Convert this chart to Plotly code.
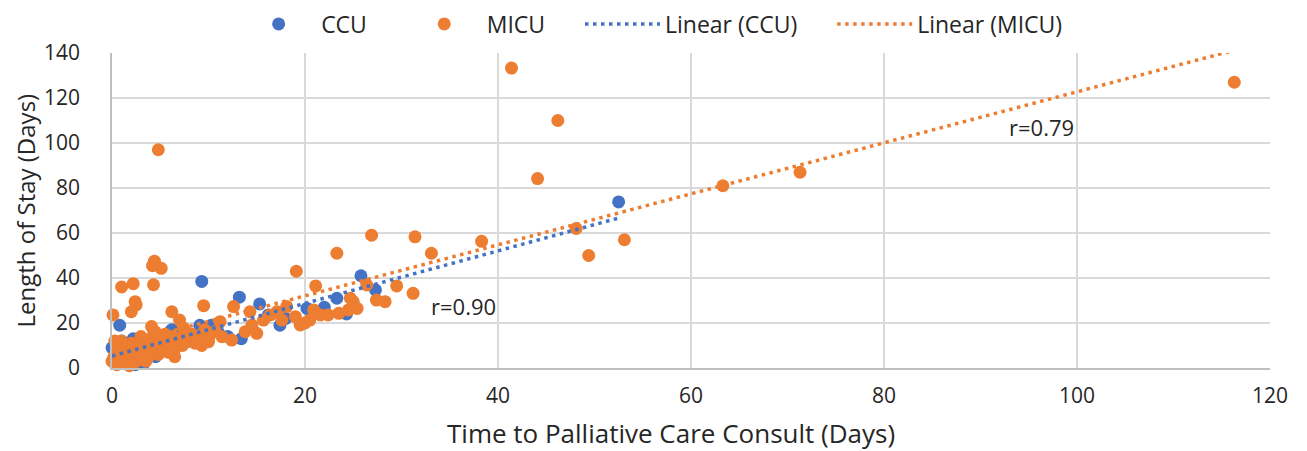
import numpy as np
import plotly.graph_objects as go

# ---- data ----
ccu_x = [0, 0.2, 0.3, 0.5, 0.8, 1.0, 1.2, 1.5, 1.8, 2.2, 2.4, 2.8, 3.0, 3.3, 3.5, 4.0,
         4.5, 5.0, 6.0, 6.2, 7.0, 8.0,
         9.1, 9.3, 10.3, 11.0, 12.0, 13.2, 13.4, 15.3, 16.2, 17.4, 18.0, 20.2, 20.5, 22.0,
         23.3, 24.3, 25.8, 27.3, 52.5]
ccu_y = [9, 4, 2, 3, 19, 12, 4, 6, 11, 13, 1.5, 3, 8, 2, 10, 7,
         5, 11, 16, 17, 14, 12,
         19, 38.5, 19, 16, 14, 31.5, 13, 28.5, 23.6, 19, 22, 26.5, 25.8, 27,
         31, 24, 41, 34.7, 73.8]

micu_x = [4.8, 41.4, 46.2, 44.1, 48.1, 49.4, 53.1, 63.3, 71.3, 116.3, 38.3, 31.4, 33.1,
          26.9, 23.3, 19.1, 21.1, 29.5, 31.2, 27.4, 28.3, 26.4, 25.0, 25.4, 24.5, 23.5,
          22.4, 21.6, 20.9, 20.5, 24.7,
          12.6, 9.5, 14.3, 18.1, 17.1, 17.6, 19.5, 20.0, 19.0, 15.0, 13.8, 12.4, 11.2,
          10.7, 10.0, 11.4, 14.5, 15.7, 16.4,
          4.4, 4.2, 5.1, 1.0, 2.2, 4.3, 2.4, 2.5, 2.0, 0.1, 6.2, 7.0, 4.1, 7.4,
          0, 0.2, 0.3, 0.5, 0.7, 1.0, 1.0, 1.2, 1.5, 1.8, 2.0, 2.2, 2.5, 2.8, 3.0, 3.2,
          3.5, 3.8, 4.0, 4.2, 4.5, 4.8, 5.0, 5.3, 5.5, 5.8, 6.0, 6.3, 6.6, 7.0, 7.3, 7.6,
          8.0, 8.3, 8.6, 9.0, 9.3, 9.6, 10.0, 4.5, 3.0, 0.3, 1.2, 6.5, 3.5,
          0.5, 1.5, 2.5, 1.8]
micu_y = [97, 133.3, 110, 84.2, 62, 50, 57, 81, 87, 127, 56.3, 58.3, 51,
          59, 51, 43, 36.5, 36.5, 33.2, 30.2, 29.5, 36.9, 29.5, 26.5, 25.8, 24.3,
          23.6, 23.6, 25.8, 21.3, 31,
          27.3, 27.7, 25, 27.3, 25, 21.3, 19.1, 20, 22.8, 15.4, 16.1, 12.4, 20.6,
          16.1, 11.7, 13.9, 19.1, 21.3, 23.6,
          47.5, 45.5, 44.3, 36, 37.5, 37, 29.5, 28, 25, 23.6, 25, 21.3, 18.4, 17.8,
          3, 5, 2, 8, 4, 6, 12, 3, 9, 5, 11, 2, 7, 4, 9, 6,
          12, 5, 8, 14, 10, 6, 12, 9, 15, 7, 11, 14, 9, 13, 10, 16,
          12, 15, 11, 14, 10, 17, 13, 16, 14, 12, 10, 5, 3,
          1.5, 2, 3, 1]

x_ticks = [0, 20, 40, 60, 80, 100, 120]
y_ticks = [0, 20, 40, 60, 80, 100, 120, 140]
r_labels = ["r=0.90", "r=0.79"]
r_pos_x = [36.4, 96.3]
r_pos_y = [27.6, 107.1]
x_title = "Time to Palliative Care Consult (Days)"
y_title = "Length of Stay (Days)"

BLUE = "#4472C4"
ORANGE = "#ED7D31"
TXT = "#262626"
FONT = "Open Sans"
PAD = "\u00a0" * 5


def trend(xs, ys):
    k, b = np.polyfit(xs, ys, 1)
    tx = np.array([0.0, max(xs)])
    return tx, k * tx + b


fig = go.Figure()
fig.add_trace(go.Scatter(x=ccu_x, y=ccu_y, mode="markers", name="CCU" + PAD,
                         marker=dict(color=BLUE, size=13), cliponaxis=False))
fig.add_trace(go.Scatter(x=micu_x, y=micu_y, mode="markers", name="MICU" + PAD,
                         marker=dict(color=ORANGE, size=13), cliponaxis=False))
tx, ty = trend(ccu_x, ccu_y)
fig.add_trace(go.Scatter(x=tx, y=ty, mode="lines", name="Linear (CCU)" + PAD,
                         line=dict(color=BLUE, width=3.5, dash="3.5px,4.5px")))
tx, ty = trend(micu_x, micu_y)
fig.add_trace(go.Scatter(x=tx, y=ty, mode="lines", name="Linear (MICU)",
                         line=dict(color=ORANGE, width=3.5, dash="3.5px,4.5px")))

for t, ax_, ay_ in zip(r_labels, r_pos_x, r_pos_y):
    fig.add_annotation(x=ax_, y=ay_, text=t, showarrow=False,
                       font=dict(family=FONT, size=22, color=TXT))

fig.add_annotation(text=x_title, xref="paper", yref="paper", x=0.483, y=-0.206,
                   xanchor="center", yanchor="middle", showarrow=False, borderpad=0,
                   font=dict(family=FONT, size=26, color=TXT))
fig.add_annotation(text=y_title, xref="paper", yref="paper", x=-0.0751, y=0.5,
                   xanchor="center", yanchor="middle", showarrow=False, textangle=-90,
                   borderpad=0, font=dict(family=FONT, size=24, color=TXT))

fig.update_layout(
    width=1299, height=443,
    margin=dict(l=104, r=37, t=45, b=83, autoexpand=False),
    paper_bgcolor="white", plot_bgcolor="white",
    font=dict(family=FONT, size=21, color=TXT),
    showlegend=True,
    legend=dict(orientation="h", x=0.466, xanchor="center", y=1.092, yanchor="middle",
                font=dict(family=FONT, size=23, color=TXT), itemwidth=75),
    xaxis=dict(range=[0, 120], tickvals=x_ticks, showgrid=True, gridcolor="#D9D9D9",
               gridwidth=1.5, zeroline=False, showline=True, linecolor="#BFBFBF",
               linewidth=1.5, ticks="", tickfont=dict(size=21), ticklabelstandoff=8),
    yaxis=dict(range=[0, 140], tickvals=y_ticks, showgrid=True, gridcolor="#D9D9D9",
               gridwidth=1.5, zeroline=False, showline=True, linecolor="#BFBFBF",
               linewidth=1.5, ticks="", tickfont=dict(size=21), ticklabelstandoff=26),
)

fig.write_html("out.html")
